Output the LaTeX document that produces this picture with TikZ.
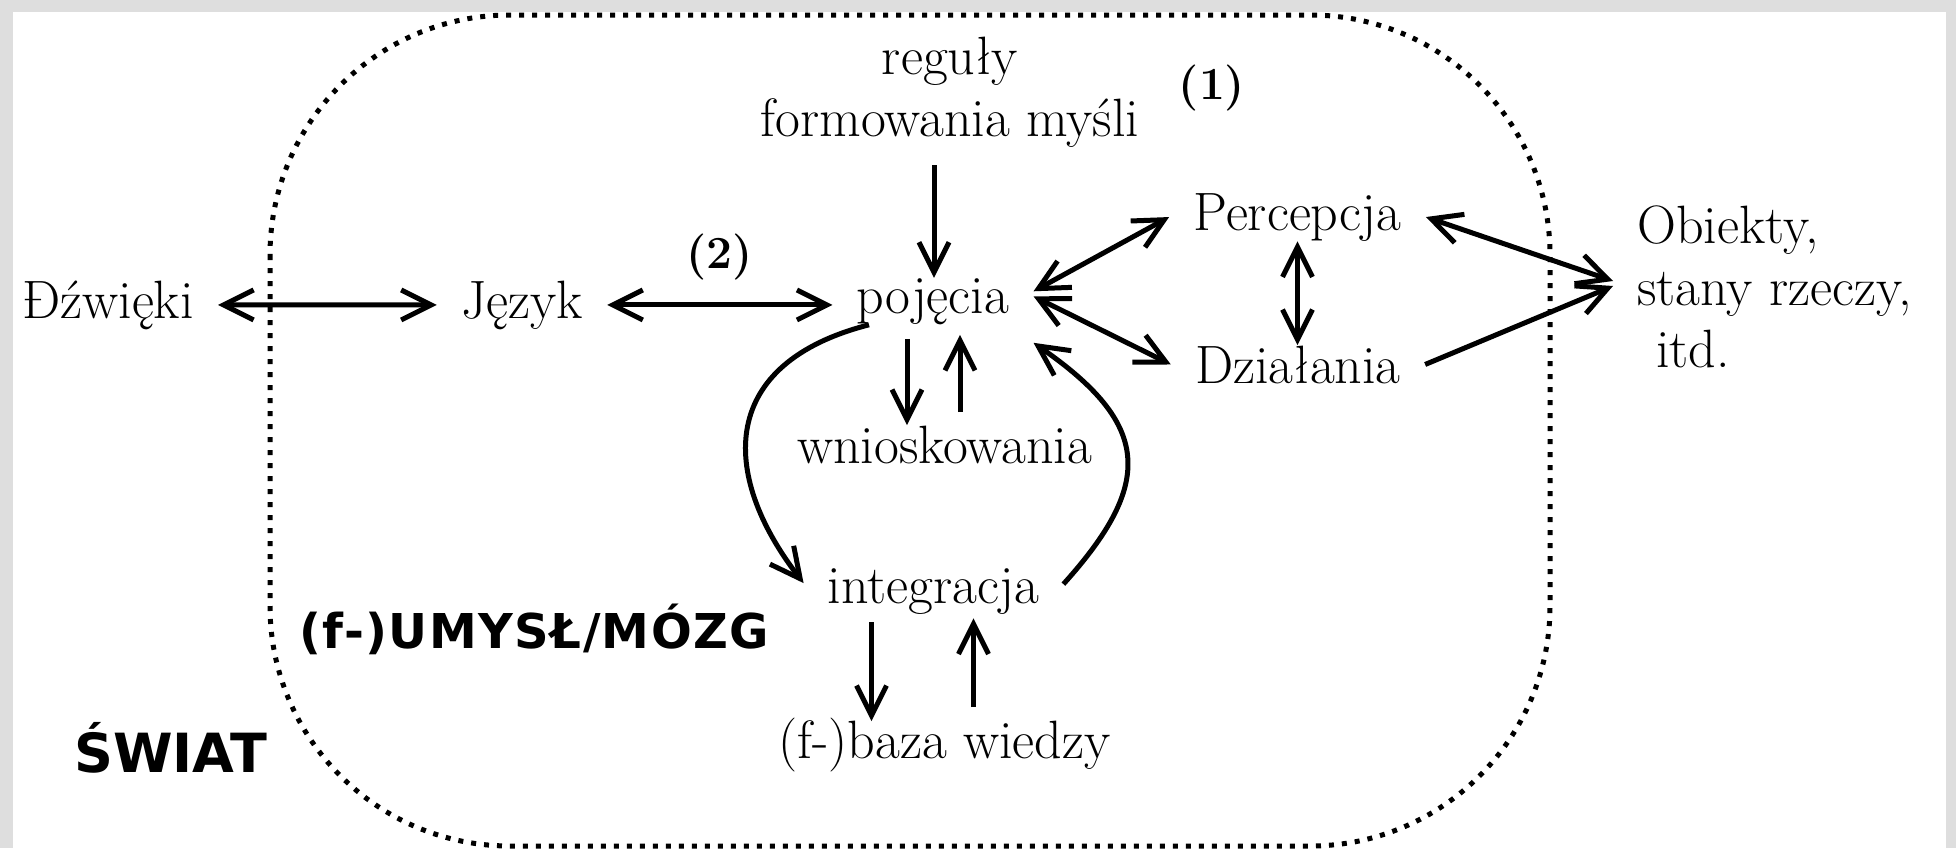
\documentclass[tikz,border=0pt]{standalone}
\usepackage{fontspec}
\newfontfamily\worldfont{DejaVu Sans}
\newfontfamily\mindfont{DejaVu Sans}[LetterSpace=3]
\usetikzlibrary{arrows.meta}

\begin{document}
\begin{tikzpicture}[x=0.5pt, y=-0.5pt,
    >={Straight Barb[length=15pt, width=15pt]},
    txt/.style={font=\fontsize{27}{31}\selectfont, inner xsep=12pt, inner ysep=0pt},
    arr/.style={line width=2.5pt},
    num/.style={font=\fontsize{23}{27}\selectfont\bfseries, inner sep=0pt},
    worldtxt/.style={font=\worldfont\bfseries\fontsize{27}{31}\selectfont, inner sep=0pt},
    mindtxt/.style={font=\mindfont\bfseries\fontsize{24}{28}\selectfont, inner sep=0pt}]
        \useasboundingbox (0,0) rectangle (1956,848);
        \fill [black!13] (0,0) rectangle (1956,848);
        \fill [white] (13,12) rectangle (1946,848);
        \draw [line width=2.5pt, dash pattern=on 2.5pt off 4pt, rounded corners=120pt] (270,15) rectangle (1550,846);
        \node [txt, anchor=base] (dzw) at (108,318) {Đźwięki};
        \node [txt, anchor=base] (jez) at (522,318) {Język};
        \node [txt, anchor=base] (poj) at (933,313) {pojęcia};
        \node [txt, anchor=south, align=center] (reg) at (950,147.5) {reguły\\formowania myśli};
        \node [num] (one) at (1212,88) {(1)};
        \node [txt, anchor=base] (perc) at (1297.5,230) {Percepcja};
        \node [txt, anchor=base] (dzi) at (1298,383) {Działania};
        \node [txt, anchor=north west, align=left] (obj) at (1613,205.5) {Obiekty,\\stany rzeczy,\\\hspace*{0.35em}itd.};
        \node [txt, anchor=base] (wn) at (944.5,463) {wnioskowania};
        \node [txt, anchor=base] (integ) at (933.5,603) {integracja};
        \node [txt, anchor=base] (baza) at (944.5,758) {(f-)baza wiedzy};
        \node [mindtxt, anchor=base west] (umysl) at (299,648) {(f-)UMYSŁ/MÓZG};
        \node [worldtxt, anchor=base west] (swiat) at (74,772) {ŚWIAT};
        \draw [arr, <->] (dzw.east) -- (jez.west);
        \draw [arr, <->] (jez.east) -- node [num, above=11pt] (two) {(2)} (jez.east -| poj.west);
        \draw [arr, ->, shorten <=8.75pt] ([xshift=-8pt]reg.south) -- ([xshift=-8pt]reg.south |- poj.north);
        \draw [arr, ->, shorten <=7pt] ([xshift=-13pt]poj.south) -- ([xshift=-13pt]poj.south |- wn.north);
        \draw [arr, ->, shorten <=6.5pt, shorten >=5pt] ([xshift=13.5pt]poj.south |- wn.north) -- ([xshift=13.5pt]poj.south);
        \draw [arr, ->, shorten <=4pt, shorten >=-2pt] ([xshift=-31pt]integ.south) -- ([xshift=-31pt]integ.south |- baza.north);
        \draw [arr, ->, shorten <=5pt, shorten >=2pt] ([xshift=20pt]integ.south |- baza.north) -- ([xshift=20pt]integ.south);
        \draw [arr, ->] ([xshift=-32pt]poj.south) .. controls +(-150,38.5) and +(-85,-110) .. ([yshift=4pt]integ.west);
        \draw [arr, ->] ([yshift=3.5pt]integ.east) .. controls +(91,-101) and +(118,81.5) .. ([yshift=-9pt]poj.south east);
        \draw [arr, <->] ([yshift=5pt]poj.east) -- (perc.west);
        \draw [arr, <->] ([yshift=2.5pt]poj.east) -- (dzi.west);
        \draw [arr, <->] (perc.south) -- (perc.south |- dzi.north);
        \draw [arr, <->] (perc.east) -- ([yshift=3pt]obj.west);
        \draw [arr, ->] (dzi.east) -- ([yshift=0.5pt]obj.west);
      \end{tikzpicture}
\end{document}
